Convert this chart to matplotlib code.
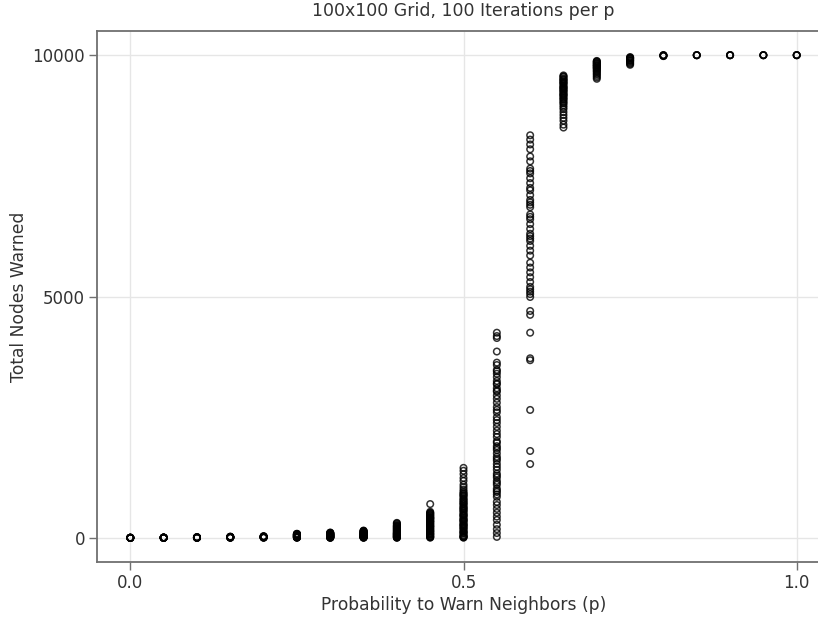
import matplotlib.pyplot as plt
import numpy as np

# 每个 p 对应的模拟结果
p_values = [0.0, 0.05, 0.1, 0.15, 0.2, 0.25, 0.3, 0.35, 0.4, 0.45, 0.5,
            0.55, 0.6, 0.65, 0.7, 0.75, 0.8, 0.85, 0.9, 0.95, 1.0]

warned_00 = [1, 1, 1, 1, 2, 1, 1, 3, 1, 1]
warned_05 = [1, 2, 3, 1, 5, 2, 8, 4, 1, 2, 6, 3]
warned_10 = [2, 5, 9, 3, 12, 6, 15, 4, 8, 1, 11, 7]
warned_15 = [4, 10, 18, 7, 22, 13, 25, 9, 16, 3, 20, 6]
warned_20 = [6, 15, 28, 35, 10, 22, 12, 30, 18, 3, 25, 8]
warned_25 = [5, 12, 20, 30, 42, 55, 65, 78, 85, 25, 35, 48, 60, 15, 8, 70, 38, 52,
             3, 10, 18, 27, 33, 45, 58, 68, 74, 80]
warned_30 = [4, 8, 15, 25, 35, 45, 55, 65, 75, 85, 95, 105, 110, 30, 50, 70, 20, 60,
             2, 12, 22, 40, 48, 58, 80, 90, 100, 6]
warned_35 = [5, 10, 20, 30, 40, 55, 70, 85, 100, 115, 130, 145, 150, 25, 60, 90, 45, 75,
             3, 15, 35, 50, 65, 80, 95, 110, 125, 140, 8, 18]
warned_40 = [5, 10, 25, 40, 60, 80, 100, 120, 140, 160, 180, 200, 220, 240, 260, 280, 300, 310,
             30, 70, 110, 50, 90, 150, 3, 15, 35, 55, 75, 95, 130, 170, 190, 210, 230, 250]
warned_45 = [700, 540, 520, 500, 480, 460, 440, 420, 400, 380, 360, 340, 320, 300, 280, 260,
             240, 220, 200, 180, 160, 140, 120, 100, 80, 60, 40, 20, 10, 5, 250, 150, 90, 350,
             470, 430, 390, 330, 290, 230, 190, 130, 70, 30, 510, 410]
warned_50 = [1450, 1390, 1320, 1240, 1180, 1100, 1050, 1000, 960, 930, 890, 850, 800, 770,
             730, 700, 660, 620, 590, 560, 520, 490, 450, 420, 390, 360, 330, 300, 270, 240,
             210, 180, 150, 120, 90, 60, 40, 20, 10, 5, 640, 480, 350, 250, 130, 810, 700, 550,
             910, 870, 750, 600, 460, 380, 280, 200, 100, 30]
warned_55 = [4250, 4180, 4140, 3860, 3630, 3580, 3480, 3400, 3330, 3250, 3180, 3100, 3030,
             2950, 2880, 2710, 2600, 2500, 2440, 2380, 2300, 2220, 2150, 2090, 1970, 1900,
             1820, 1750, 1680, 1600, 1530, 1470, 1410, 1330, 1250, 1180, 1100, 1020, 950, 900,
             850, 745, 680, 600, 520, 440, 370, 270, 180, 100, 20, 3200, 2800, 1860, 1140,
             3450, 3050, 2650, 2000, 1640, 1290, 980]
warned_60 = [8340, 8250, 8150, 8050, 7900, 7800, 7650, 7550, 7450, 7350, 7200, 7100, 7000,
             6900, 6850, 6700, 6600, 6500, 6400, 6300, 6200, 6150, 6050, 5950, 5850, 5700,
             5600, 5500, 5400, 5300, 5200, 5100, 5050, 4990, 4700, 4620, 4250, 3720, 3680,
             2650, 1800, 1530, 7600, 6950, 6250, 5150, 7250, 6650]
warned_65 = [9580, 9550, 9520, 9500, 9470, 9450, 9420, 9400, 9370, 9350, 9320, 9300, 9280,
             9250, 9220, 9200, 9170, 9150, 9120, 9100, 9080, 9050, 9020, 9000, 8960, 8920,
             8880, 8820, 8760, 8700, 8640, 8560, 8500, 9560, 9490, 9430, 9330, 9260, 9180]
warned_70 = [9880, 9860, 9840, 9820, 9800, 9790, 9770, 9750, 9730, 9710, 9690, 9670, 9650,
             9620, 9600, 9570, 9540, 9510, 9870, 9830, 9780, 9740]
warned_75 = [9960, 9950, 9940, 9920, 9900, 9880, 9860, 9840, 9820, 9800, 9930, 9890]
warned_80 = [10000, 9998, 9995, 9990, 9985, 9980]
warned_85 = [10000, 10000, 9999, 9998]
warned_90 = [10000, 10000, 9999, 9998]
warned_95 = [10000, 10000, 9999, 9998]
warned_100 = [10000, 10000, 10000, 9999]

all_warned = [warned_00, warned_05, warned_10, warned_15, warned_20, warned_25, warned_30,
              warned_35, warned_40, warned_45, warned_50, warned_55, warned_60, warned_65,
              warned_70, warned_75, warned_80, warned_85, warned_90, warned_95, warned_100]

xs = []
ys = []
for p, vals in zip(p_values, all_warned):
    xs.extend([p] * len(vals))
    ys.extend(vals)

text_color = '#333333'
spine_color = '#707070'

fig = plt.figure(figsize=(8.18, 6.19), dpi=100)
ax = fig.add_axes([0.1186, 0.0921, 0.8961, 0.8578])

ax.scatter(xs, ys, s=22, facecolors='none', edgecolors='black', linewidths=1.1,
           alpha=0.8, zorder=3)

ax.set_xlim(-0.05, 1.05)
ax.set_ylim(-500, 10500)
ax.set_xticks([0.0, 0.5, 1.0])
ax.set_xticklabels(['0.0', '0.5', '1.0'])
ax.set_yticks([0, 5000, 10000])
ax.set_yticklabels(['0', '5000', '10000'])

ax.grid(True, color='#e6e6e6', linewidth=1.0, zorder=0)
ax.set_axisbelow(True)

for side in ['left', 'bottom', 'top']:
    ax.spines[side].set_color(spine_color)
    ax.spines[side].set_linewidth(1.3)
ax.spines['right'].set_visible(False)

ax.tick_params(axis='both', colors=spine_color, labelcolor=text_color, labelsize=12,
               length=5.5, width=1.0, direction='out', pad=3)

ax.set_title('100x100 Grid, 100 Iterations per p', fontsize=12.5, color=text_color, pad=11)
ax.set_xlabel('Probability to Warn Neighbors (p)', fontsize=12.3, color=text_color, labelpad=3)
ax.set_ylabel('Total Nodes Warned', fontsize=12.3, color=text_color, labelpad=3)

fig.savefig('out.png', dpi=100)
